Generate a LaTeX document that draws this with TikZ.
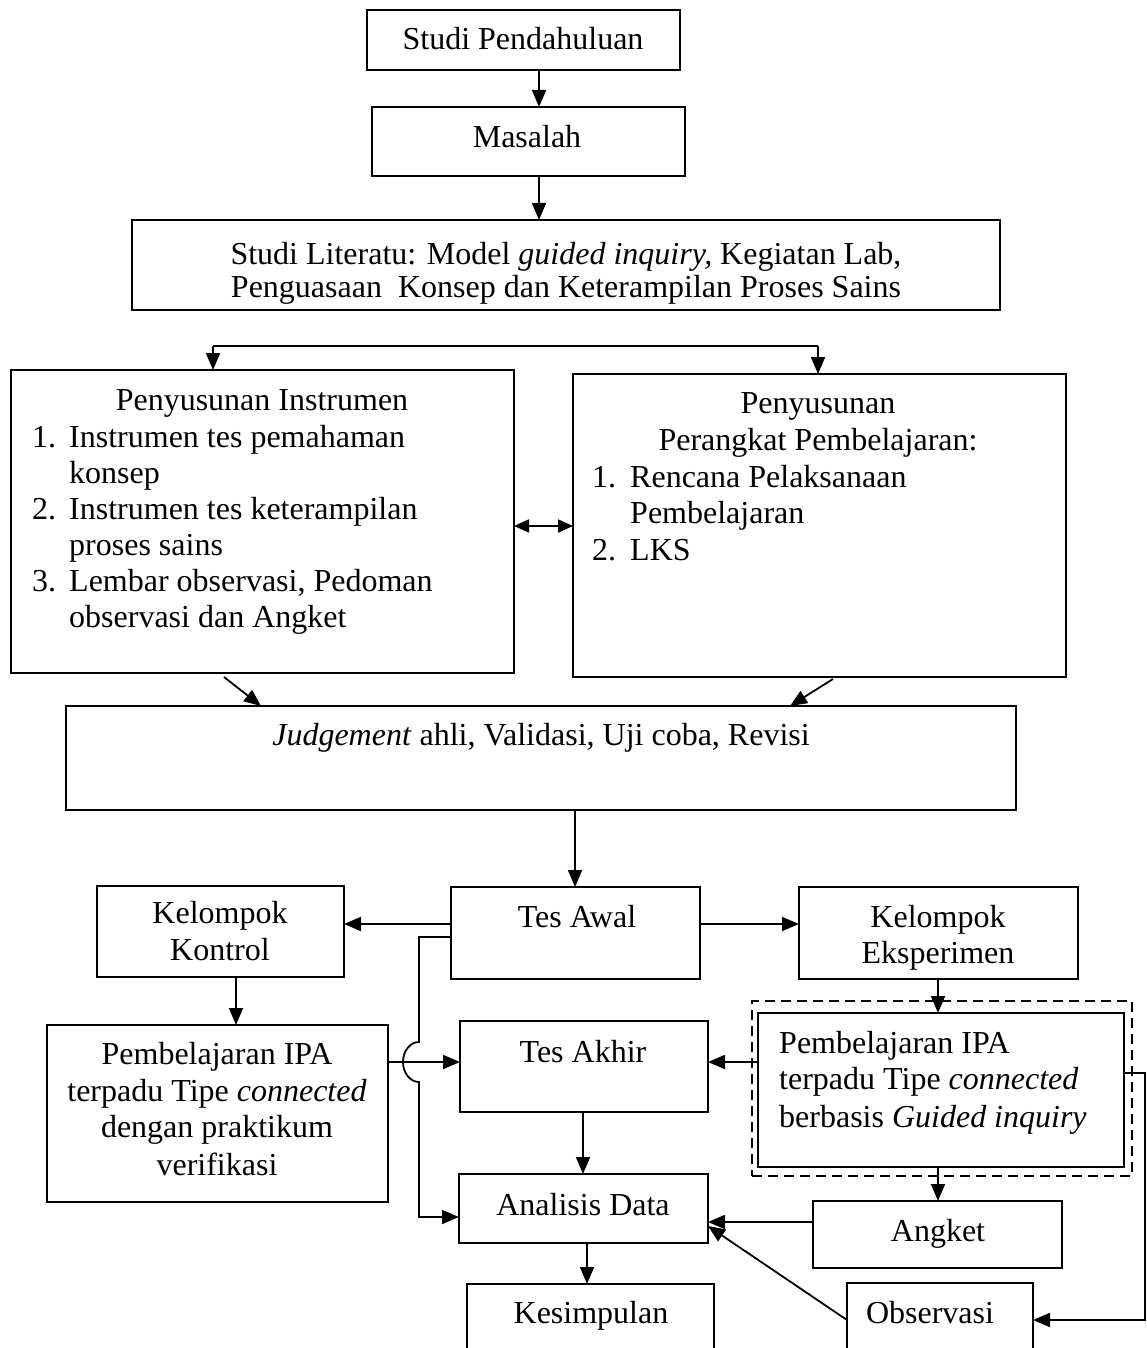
\documentclass[tikz,border=0pt]{standalone}
\usepackage{fontspec}
\setmainfont{Liberation Serif}
\usetikzlibrary{arrows.meta}
\newcommand\myfs{\fontsize{32pt}{37pt}\selectfont}
\newcommand\mybox[5]{\node[box,minimum width={(#4-#2)*1pt},minimum height={(#5-#3)*1pt}] (#1) at ({(#2+#4)/2},{(#3+#5)/2}) {};}
\newcommand\txtC[4]{\node[txt,anchor=base] (#1) at (#2,#3) {#4};}
\newcommand\txtL[4]{\node[txt,anchor=base west] (#1) at (#2,#3) {#4};}
\begin{document}
\begin{tikzpicture}[x=1pt,y=-1pt,
 box/.style={draw,line width=2pt,inner sep=0pt,outer sep=0pt},
 txt/.style={inner sep=0pt,font=\myfs},
 arr/.style={line width=1.8pt,-{Triangle[length=17pt,width=14pt]}},
 arrs/.style={line width=1.8pt,{Triangle[length=15pt,width=13pt]}-{Triangle[length=15pt,width=13pt]}},
 ln/.style={line width=1.8pt},
 dashbox/.style={draw,line width=1.8pt,dash pattern=on 10pt off 6pt,inner sep=0pt,outer sep=0pt}]
\useasboundingbox (0,0) rectangle (1147,1348);
\clip (0,0) rectangle (1147,1348);
\fill[white] (0,0) rectangle (1147,1348);

% boxes
\mybox{B1}{367}{10}{680}{70}
\mybox{B2}{372}{107}{685}{176}
\mybox{B3}{132}{220}{1000}{310}
\mybox{B4}{11}{370}{514}{673}
\mybox{B5}{573}{374}{1066}{677}
\mybox{B6}{66}{706}{1016}{810}
\mybox{B7}{451}{887}{700}{979}
\mybox{B8}{97}{886}{344}{977}
\mybox{B9}{799}{887}{1078}{979}
\mybox{B10}{47}{1025}{388}{1202}
\mybox{B11}{460}{1021}{708}{1112}
\node[dashbox,minimum width=380pt,minimum height=175pt] (D12) at (942,1088.5) {};
\mybox{B12}{758}{1013}{1124}{1167}
\mybox{B13}{459}{1174}{708}{1243}
\mybox{B14}{813}{1201}{1062}{1268}
\mybox{B15}{467}{1284}{714}{1400}
\mybox{B16}{847}{1283}{1033}{1400}

% helper coordinates
\coordinate (kA) at (539,0);
\coordinate (sL) at (213,346);
\coordinate (sR) at (818,346);
\coordinate (kDbl) at (0,526);
\coordinate (d1s) at (224,677);
\coordinate (d1e) at (261,0);
\coordinate (d2s) at (833,679);
\coordinate (d2e) at (790,0);
\coordinate (kB) at (575,0);
\coordinate (kC) at (0,924);
\coordinate (kK) at (236,0);
\coordinate (kD) at (938,0);
\coordinate (kE) at (0,1062);
\coordinate (kF) at (0,937);
\coordinate (kG) at (0,1217);
\coordinate (kT) at (583,0);
\coordinate (kS) at (587,0);
\coordinate (kAng) at (0,1222);
\coordinate (kObs) at (0,1320);
\coordinate (kAn2) at (0,1226);
\coordinate (kJ) at (0,1073);

% connectors
\draw[arr] (B1.south -| kA) -- (B2.north -| kA);
\draw[arr] (B2.south -| kA) -- (B3.north -| kA);
\draw[ln] (sL) -- (sR);
\draw[arr] (sL) -- (B4.north -| sL);
\draw[arr] (sR) -- (B5.north -| sR);
\draw[arrs] (B4.east |- kDbl) -- (B5.west |- kDbl);
\draw[arr] (d1s) -- (B6.north -| d1e);
\draw[arr] (d2s) -- (B6.north -| d2e);
\draw[arr] (B6.south -| kB) -- (B7.north -| kB);
\draw[arr] (B7.west |- kC) -- (B8.east |- kC);
\draw[arr] (B7.east |- kC) -- (B9.west |- kC);
\draw[arr] (B8.south -| kK) -- (B10.north -| kK);
\draw[arr] (B9.south -| kD) -- (B12.north -| kD);
\draw[arr] (B10.east |- kE) -- (B11.west |- kE);
\draw[arr] (B12.west |- kE) -- (B11.east |- kE);
\draw[arr] (B7.west |- kF) -- (419,937) -- (419,1042)
   arc[start angle=90,end angle=270,x radius=16pt,y radius=20pt]
   -- (419,1217) -- (B13.west |- kG);
\draw[arr] (B11.south -| kT) -- (B13.north -| kT);
\draw[arr] (B13.south -| kS) -- (B15.north -| kS);
\draw[arr] (B12.south -| kD) -- (B14.north -| kD);
\draw[arr] (B14.west |- kAng) -- (B13.east |- kAng);
\draw[arr] (B16.west |- kObs) -- (B13.east |- kAn2);
\draw[arr] (B12.east |- kJ) -- (1145,1073) -- (1145,1320) -- (B16.east |- kObs);

% texts
\txtC{T1}{523}{50}{Studi Pendahuluan}
\txtC{T2}{527}{148}{Masalah}
\txtC{T3a}{566}{265}{Studi Literatu: Model \textit{guided inquiry,} Kegiatan Lab,}
\txtC{T3b}{566}{297}{Penguasaan\ \ Konsep dan Keterampilan Proses Sains}

\txtC{T4}{262}{410}{Penyusunan Instrumen}
\txtL{T4a}{32}{447}{1.}
\txtL{T4b}{69}{447}{Instrumen tes pemahaman}
\txtL{T4c}{69}{483}{konsep}
\txtL{T4d}{32}{519}{2.}
\txtL{T4e}{69}{519}{Instrumen tes keterampilan}
\txtL{T4f}{69}{555}{proses sains}
\txtL{T4g}{32}{591}{3.}
\txtL{T4h}{69}{591}{Lembar observasi, Pedoman}
\txtL{T4i}{69}{627}{observasi dan Angket}

\txtC{T5}{818}{413}{Penyusunan}
\txtC{T5a}{818}{450}{Perangkat Pembelajaran:}
\txtL{T5b}{592}{487}{1.}
\txtL{T5c}{630}{487}{Rencana Pelaksanaan}
\txtL{T5d}{630}{523}{Pembelajaran}
\txtL{T5e}{592}{560}{2.}
\txtL{T5f}{630}{560}{LKS}

\txtC{T6}{541}{745}{\textit{Judgement} ahli, Validasi, Uji coba, Revisi}
\txtC{T7}{577}{927}{Tes Awal}
\txtC{T8a}{220}{923}{Kelompok}
\txtC{T8b}{220}{960}{Kontrol}
\txtC{T9a}{938}{927}{Kelompok}
\txtC{T9b}{938}{963}{Eksperimen}

\txtC{T10a}{217}{1064}{Pembelajaran IPA}
\txtC{T10b}{217}{1101}{terpadu Tipe \textit{connected}}
\txtC{T10c}{217}{1137}{dengan praktikum}
\txtC{T10d}{217}{1175}{verifikasi}

\txtC{T11}{583}{1062}{Tes Akhir}
\txtL{T12a}{779}{1053}{Pembelajaran IPA}
\txtL{T12b}{779}{1089}{terpadu Tipe \textit{connected}}
\txtL{T12c}{779}{1127}{berbasis \textit{Guided inquiry}}

\txtC{T13}{583}{1215}{Analisis Data}
\txtC{T14}{938}{1241}{Angket}
\txtC{T15}{591}{1323}{Kesimpulan}
\txtC{T16}{930}{1323}{Observasi}
\end{tikzpicture}
\end{document}
